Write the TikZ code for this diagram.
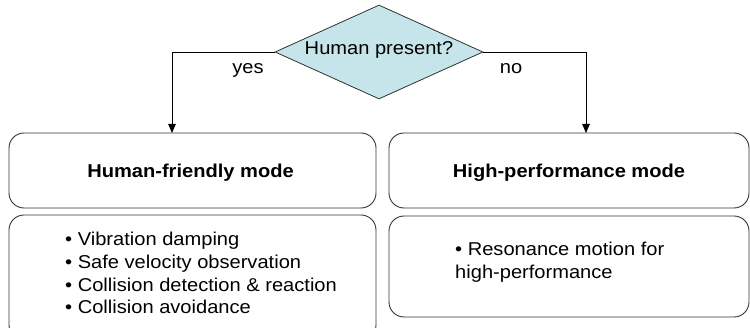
\documentclass[tikz,border=0pt]{standalone}
\usepackage{fontspec}
\setmainfont[FakeStretch=1.08]{Liberation Sans}
\usetikzlibrary{shapes.geometric,arrows.meta}
\definecolor{diamfill}{RGB}{198,229,234}
\definecolor{edgegray}{RGB}{50,50,50}
\tikzset{
  modebox/.style={draw=edgegray, line width=0.9pt, rounded corners=15pt, inner sep=0pt},
  txt/.style={inner sep=0pt, font=\fontsize{18.6}{22}\selectfont},
  bold/.style={txt, font=\fontsize{18.6}{22}\selectfont\bfseries},
  conn/.style={draw=black, line width=0.8pt, -{Triangle[length=9pt,width=7.5pt]}},
}
\begin{document}
\begin{tikzpicture}[x=1pt,y=-1pt]
\useasboundingbox (0,0) rectangle (750,328);
\clip (0,0) rectangle (750,328);
% decision
\node[diamond, draw=edgegray, line width=0.8pt, fill=diamfill, inner sep=0pt,
      aspect=2.21, minimum width=208pt, minimum height=94pt] (q) at (379,52) {};
\node[txt, anchor=base] (qt) at (379,55) {Human present?};
\node[txt, anchor=base] (yes) at (248,74) {yes};
\node[txt, anchor=base] (no) at (511,74) {no};
% boxes
\node[modebox, minimum width=367pt, minimum height=75pt] (hf) at (192.5,170.5) {};
\node[modebox, minimum width=360pt, minimum height=75pt] (hp) at (569,170.5) {};
\node[modebox, minimum width=367pt, minimum height=125pt] (hfl) at (192.5,277.5) {};
\node[modebox, minimum width=360pt, minimum height=101pt] (hpl) at (569,266.5) {};
\node[bold, anchor=base] (hft) at (190.5,177.5) {Human-friendly mode};
\node[bold, anchor=base] (hpt) at (569,177.5) {High-performance mode};
% connectors
\coordinate (ya) at (172,133);
\coordinate (na) at (586,133);
\draw[conn] (q.west) -| (ya);
\draw[conn] (q.east) -| (na);
% lists
\node[txt, anchor=base west] (l1) at (65,246) {• Vibration damping};
\node[txt, anchor=base west] (l2) at (65,268.7) {• Safe velocity observation};
\node[txt, anchor=base west] (l3) at (65,291.3) {• Collision detection \& reaction};
\node[txt, anchor=base west] (l4) at (65,314) {• Collision avoidance};
\node[txt, anchor=base west] (r1) at (455,256) {• Resonance motion for};
\node[txt, anchor=base west] (r2) at (455,278.5) {high-performance};
\end{tikzpicture}
\end{document}
